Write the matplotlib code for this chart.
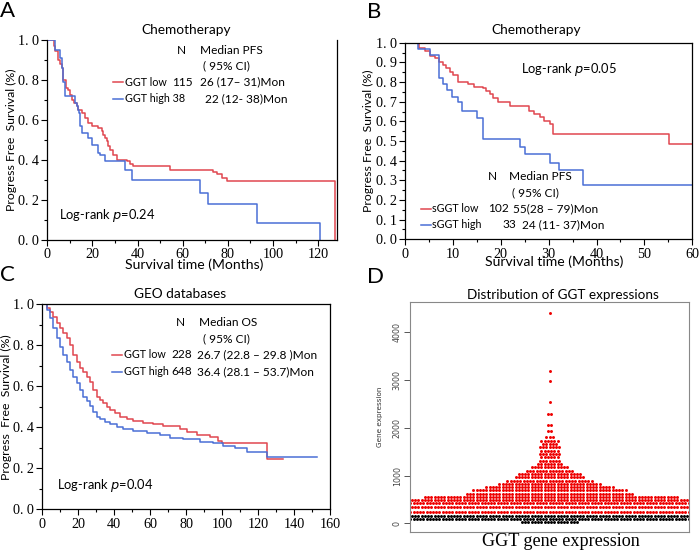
import numpy as np
import matplotlib
matplotlib.use('Agg')
import matplotlib.pyplot as plt
from matplotlib.ticker import MultipleLocator

# ---------------- data ----------------
# Panel A: Chemotherapy, GGT low / high (PFS)
a_low_t = [0, 3.0, 3.5, 4.9, 5.6, 6.4, 7.1, 8.1, 9.3, 10.1, 10.8, 12.0, 13.0, 13.7, 15.2, 16.7,
           18.2, 19.7, 22.6, 24.1, 24.8, 25.6, 26.3, 27.0, 27.8, 29.2, 30.7, 35.2, 36.6, 38.1,
           54.3, 73.5, 75.0, 77.2, 79.4, 127.6]
a_low_s = [1.0, 0.97, 0.943, 0.902, 0.88, 0.86, 0.802, 0.76, 0.752, 0.727, 0.702, 0.685, 0.668,
           0.652, 0.635, 0.61, 0.585, 0.568, 0.56, 0.543, 0.527, 0.51, 0.493, 0.468, 0.452, 0.427,
           0.402, 0.393, 0.38, 0.368, 0.352, 0.34, 0.33, 0.31, 0.297, 0.0]
a_high_t = [0, 3.4, 5.6, 6.4, 7.1, 7.8, 12.3, 13.0, 13.7, 14.0, 14.5, 15.2, 17.9, 19.7, 22.3,
            23.3, 25.6, 34.4, 37.6, 67.6, 71.3, 93.0, 120.7]
a_high_s = [1.0, 0.95, 0.91, 0.86, 0.79, 0.72, 0.685, 0.668, 0.65, 0.635, 0.568, 0.535, 0.51,
            0.477, 0.435, 0.427, 0.393, 0.35, 0.30, 0.235, 0.18, 0.087, 0.0]

# Panel B: Chemotherapy, sGGT low / high (PFS)
b_low_t = [0, 3.0, 4.1, 5.2, 6.2, 7.2, 7.9, 8.6, 9.3, 10.0, 11.1, 13.2, 14.5, 16.3, 17.0, 17.7,
           18.4, 19.4, 22.0, 26.0, 27.0, 28.2, 29.0, 30.3, 31.0, 55.2, 60.0]
b_low_s = [1.0, 0.975, 0.96, 0.93, 0.92, 0.90, 0.885, 0.87, 0.85, 0.835, 0.80, 0.79, 0.775, 0.77,
           0.755, 0.74, 0.72, 0.70, 0.68, 0.655, 0.635, 0.62, 0.60, 0.585, 0.534, 0.483, 0.483]
b_high_t = [0, 2.8, 5.2, 7.0, 7.9, 8.7, 9.9, 11.1, 12.0, 15.0, 16.3, 24.1, 25.0, 30.3, 32.2, 37.1, 60.0]
b_high_s = [1.0, 0.966, 0.937, 0.818, 0.79, 0.76, 0.725, 0.70, 0.655, 0.615, 0.51, 0.47, 0.432,
            0.39, 0.353, 0.275, 0.275]

# Panel C: GEO databases (OS)
c_low_t = [0, 2.4, 4.3, 6.1, 8.0, 9.8, 11.7, 13.5, 15.4, 17.2, 19.1, 20.9, 22.8, 24.7, 26.5, 28.4,
           30.2, 32.1, 33.9, 35.8, 37.6, 40.4, 43.2, 46.9, 50.6, 56.2, 61.7, 67.3, 76.6, 80.3,
           85.8, 93.2, 97.9, 99.7, 124.8, 134.0]
c_low_s = [1.0, 0.98, 0.964, 0.94, 0.907, 0.883, 0.859, 0.834, 0.80, 0.753, 0.72, 0.69, 0.67,
           0.647, 0.623, 0.582, 0.55, 0.533, 0.517, 0.50, 0.485, 0.468, 0.452, 0.44, 0.43, 0.423,
           0.416, 0.408, 0.392, 0.376, 0.363, 0.351, 0.333, 0.322, 0.244, 0.244]
c_high_t = [0, 2.4, 4.3, 6.1, 8.0, 9.8, 11.7, 13.5, 15.4, 17.2, 19.1, 20.9, 22.8, 24.7, 26.5, 28.4,
            30.2, 32.1, 34.9, 37.6, 41.3, 45.1, 50.6, 58.0, 65.4, 71.0, 78.4, 87.7, 95.1, 100.7,
            107.2, 113.6, 124.8, 152.5]
c_high_s = [1.0, 0.972, 0.932, 0.883, 0.834, 0.793, 0.753, 0.717, 0.68, 0.647, 0.615, 0.582, 0.55,
            0.528, 0.504, 0.476, 0.452, 0.439, 0.424, 0.415, 0.403, 0.392, 0.382, 0.372, 0.363,
            0.35, 0.341, 0.33, 0.322, 0.311, 0.298, 0.281, 0.255, 0.255]

# Panel D: distribution of GGT expression (dot rows: level, number of dots)
red_levels = [4400, 3200, 2990, 2540, 2290, 2060, 1930, 1800, 1730, 1660, 1590, 1520, 1450, 1380,
              1310, 1240, 1170, 1100, 1030, 960, 890, 820, 750, 690, 620, 557, 488, 418, 334, 244]
red_counts = [1, 1, 1, 1, 2, 2, 2, 3, 6, 5, 7, 6, 7, 6, 7, 8, 12, 15, 20, 22, 27, 32, 40, 48, 52,
              79, 90, 96, 96, 96]
black_levels = [154, 84, 34]
black_counts = [96, 96, 18]

# ---------------- styling ----------------
W, H = 699, 552
SANS = ['Lato', 'DejaVu Sans']
SERIF = ['Liberation Serif', 'DejaVu Serif']
RED = '#e0474f'
BLUE = '#4a6fd6'

fig = plt.figure(figsize=(W / 100, H / 100), dpi=100)
renderer = fig.canvas.get_renderer()


def fit_size(s, width_px, family=SANS):
    t = fig.text(0, 0, s, fontsize=10, family=family)
    w = t.get_window_extent(renderer).width
    t.remove()
    return 10.0 * width_px / w


LEG = 0.96 * np.mean([fit_size('26 (17\u2013 31)Mon', 90), fit_size('Median PFS', 63),
                      fit_size('26.7 (22.8 \u2013 29.8 )Mon', 126), fit_size('55(28 \u2013 79)Mon', 92)])
LAB = fit_size('GGT low', 42)
TITLE = fit_size('Chemotherapy', 89)
LOGR = fit_size('Log-rank $p$=0.24', 96)
XLAB = fit_size('Survival time (Months)', 138)
YLAB = fit_size('Progress Free  Survival (%)', 142)
TICK = fit_size('0. 8', 21, SERIF)
DTITLE = fit_size('Distribution of GGT expressions', 191)
DXLAB = fit_size('GGT gene expression', 158, SERIF)
DTICK = fit_size('4000', 20, ['DejaVu Sans'])
DYLAB = 0.92 * DTICK
LETTER = fit_size('A', 15)


def px_axes(l, t, r, b):
    return fig.add_axes([l / W, 1 - b / H, (r - l) / W, (b - t) / H])


def ftext(x, y, s, **kw):
    kw.setdefault('family', SANS)
    kw.setdefault('fontsize', LEG)
    kw.setdefault('va', 'center')
    fig.text(x / W, 1 - y / H, s, **kw)


def fline(x0, x1, y, color):
    fig.add_artist(plt.Line2D([x0 / W, x1 / W], [1 - y / H, 1 - y / H], color=color, lw=1.1))


def km_axes(ax, xmax, xmaj, xmin, ymaj, ymin, top=True):
    ax.set_xlim(0, xmax)
    ax.set_ylim(0, 1.0)
    ax.xaxis.set_major_locator(MultipleLocator(xmaj))
    ax.xaxis.set_minor_locator(MultipleLocator(xmin))
    ax.yaxis.set_major_locator(MultipleLocator(ymaj))
    ax.yaxis.set_minor_locator(MultipleLocator(ymin))
    ax.tick_params(which='both', direction='out', width=0.8, labelsize=TICK, pad=2)
    ax.tick_params(which='major', length=4)
    ax.tick_params(which='minor', length=2.5)
    ax.spines['top'].set_visible(top)
    for sp in ax.spines.values():
        sp.set_linewidth(0.9)
    ax.yaxis.set_major_formatter(plt.FuncFormatter(lambda v, p: f"{v:.1f}".replace('.', '. ')))
    ax.xaxis.set_major_formatter(plt.FuncFormatter(lambda v, p: f"{v:.0f}"))
    for lab in ax.get_xticklabels() + ax.get_yticklabels():
        lab.set_family(SERIF)


# ---------------- Panel A ----------------
axA = px_axes(47.3, 40, 336.7, 240)
axA.step(a_low_t, a_low_s, where='post', color=RED, lw=1.1)
axA.step(a_high_t, a_high_s, where='post', color=BLUE, lw=1.1)
km_axes(axA, 128.2, 20, 10, 0.2, 0.1, top=False)
axA.set_ylabel('Progress Free  Survival (%)', family=SANS, fontsize=YLAB, labelpad=1)
ftext(194, 265, 'Survival time (Months)', ha='center', fontsize=XLAB)
ftext(186, 30, 'Chemotherapy', ha='center', fontsize=TITLE)
ftext(177, 50, 'N')
ftext(200, 50, 'Median PFS')
ftext(203, 66, '( 95% CI)')
fline(113, 123, 82, RED)
ftext(125, 82, 'GGT low', fontsize=LAB)
ftext(172, 82, '115')
ftext(200, 82, '26 (17\u2013 31)Mon')
fline(113, 123, 99, BLUE)
ftext(125, 99, 'GGT high 38', fontsize=LAB)
ftext(205, 99, '22 (12- 38)Mon')
ftext(59, 216, 'Log-rank $p$=0.24', fontsize=LOGR)

# ---------------- Panel B ----------------
axB = px_axes(405, 42.7, 692.3, 239.3)
axB.step(b_low_t, b_low_s, where='post', color=RED, lw=1.1)
axB.step(b_high_t, b_high_s, where='post', color=BLUE, lw=1.1)
km_axes(axB, 60, 10, 5, 0.1, 0.05)
axB.set_ylabel('Progress Free  Survival (%)', family=SANS, fontsize=YLAB, labelpad=1)
ftext(554, 262, 'Survival time (Months)', ha='center', fontsize=XLAB)
ftext(536, 30, 'Chemotherapy', ha='center', fontsize=TITLE)
ftext(521, 70, 'Log-rank $p$=0.05', fontsize=LOGR)
ftext(488, 177, 'N')
ftext(509, 177, 'Median PFS')
ftext(512, 193, '( 95% CI)')
fline(421, 431, 209, RED)
ftext(432, 209, 'sGGT low', fontsize=LAB)
ftext(488, 209, '102')
ftext(513, 209, '55(28 \u2013 79)Mon')
fline(421, 431, 224.5, BLUE)
ftext(432, 224.5, 'sGGT high', fontsize=LAB)
ftext(502, 224.5, '33')
ftext(522, 224.5, '24 (11- 37)Mon')

# ---------------- Panel C ----------------
axC = px_axes(42.3, 304.3, 330, 509.3)
axC.step(c_low_t, c_low_s, where='post', color=RED, lw=1.1)
axC.step(c_high_t, c_high_s, where='post', color=BLUE, lw=1.1)
km_axes(axC, 160, 20, 10, 0.2, 0.1)
axC.set_ylabel('Progress  Free  Survival (%)', family=SANS, fontsize=YLAB, labelpad=1)
ftext(180.5, 294, 'GEO databases', ha='center', fontsize=TITLE)
ftext(176, 323, 'N')
ftext(199, 323, 'Median OS')
ftext(203, 339, '( 95% CI)')
fline(112, 122, 355, RED)
ftext(123.5, 355, 'GGT low', fontsize=LAB)
ftext(171, 355, '228')
ftext(197, 355, '26.7 (22.8 \u2013 29.8 )Mon')
fline(112, 122, 371.5, BLUE)
ftext(123.5, 371.5, 'GGT high', fontsize=LAB)
ftext(171, 371.5, '648')
ftext(197, 371.5, '36.4 (28.1 \u2013 53.7)Mon')
ftext(57, 486, 'Log-rank $p$=0.04', fontsize=LOGR)

# ---------------- Panel D ----------------
axD = px_axes(410, 301.7, 689, 531.7)
pitch = 0.0232


def dot_rows(levels, counts, color):
    for i, (lvl, n) in enumerate(zip(levels, counts)):
        shift = 0.5 * pitch if (i % 2) else 0.0
        xs = (np.arange(n) - (n - 1) / 2) * pitch + (shift if n > 60 else 0.0)
        axD.scatter(xs, np.full(n, lvl), s=4.5, c=color, lw=0)


dot_rows(black_levels, black_counts, 'black')
dot_rows(red_levels, red_counts, '#ee0000')
axD.set_xlim(-1, 1)
axD.set_ylim(-176, 4641)
axD.set_xticks([])
axD.set_yticks([0, 1000, 2000, 3000, 4000])
axD.tick_params(axis='y', direction='out', length=4, width=0.7, color='#555555',
                labelsize=DTICK, labelcolor='#444444', pad=2)
for lab in axD.get_yticklabels():
    lab.set_rotation(90)
    lab.set_va('center')
    lab.set_family(['DejaVu Sans'])
for sp in axD.spines.values():
    sp.set_color('#888888')
    sp.set_linewidth(0.8)
axD.set_ylabel('Gene expression', fontsize=DYLAB, color='#333333', labelpad=7,
               family=['DejaVu Sans'])
ftext(563, 295, 'Distribution of GGT expressions', ha='center', fontsize=DTITLE)
ftext(561, 541, 'GGT gene expression', ha='center', fontsize=DXLAB, family=SERIF)

# ---------------- Panel letters ----------------
ftext(0, 1, 'A', va='top', fontsize=LETTER)
ftext(367, 2, 'B', va='top', fontsize=LETTER)
ftext(0, 265, 'C', va='top', fontsize=LETTER)
ftext(367, 267, 'D', va='top', fontsize=LETTER)

fig.savefig('out.png', dpi=100)
